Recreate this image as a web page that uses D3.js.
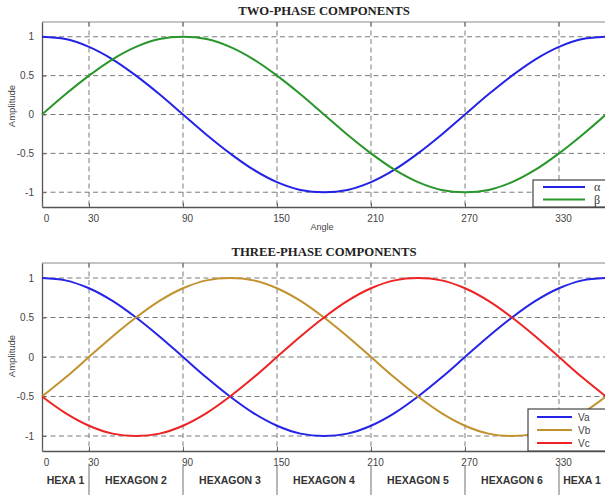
<!DOCTYPE html>
<html>
<head>
<meta charset="utf-8">
<script src="https://cdn.jsdelivr.net/npm/d3@7"></script>
<style>
  html, body { margin: 0; padding: 0; background: #fff; }
  svg { display: block; }
</style>
</head>
<body>
<script>
// Angle samples (degrees) and component amplitudes
const angles = [0, 15, 30, 45, 60, 75, 90, 105, 120, 135, 150, 165, 180, 195, 210, 225, 240, 255, 270, 285, 300, 315, 330, 345, 360];
const alpha = [1, 0.97, 0.87, 0.71, 0.5, 0.26, 0, -0.26, -0.5, -0.71, -0.87, -0.97, -1, -0.97, -0.87, -0.71, -0.5, -0.26, 0, 0.26, 0.5, 0.71, 0.87, 0.97, 1];
const beta = [0, 0.26, 0.5, 0.71, 0.87, 0.97, 1, 0.97, 0.87, 0.71, 0.5, 0.26, 0, -0.26, -0.5, -0.71, -0.87, -0.97, -1, -0.97, -0.87, -0.71, -0.5, -0.26, 0];
const va = [1, 0.97, 0.87, 0.71, 0.5, 0.26, 0, -0.26, -0.5, -0.71, -0.87, -0.97, -1, -0.97, -0.87, -0.71, -0.5, -0.26, 0, 0.26, 0.5, 0.71, 0.87, 0.97, 1];
const vb = [-0.5, -0.26, 0, 0.26, 0.5, 0.71, 0.87, 0.97, 1, 0.97, 0.87, 0.71, 0.5, 0.26, 0, -0.26, -0.5, -0.71, -0.87, -0.97, -1, -0.97, -0.87, -0.71, -0.5];
const vc = [-0.5, -0.71, -0.87, -0.97, -1, -0.97, -0.87, -0.71, -0.5, -0.26, 0, 0.26, 0.5, 0.71, 0.87, 0.97, 1, 0.97, 0.87, 0.71, 0.5, 0.26, 0, -0.26, -0.5];

const xTicks = [0, 30, 90, 150, 210, 270, 330];
const yTicks = [-1, -0.5, 0, 0.5, 1];
const yTickLabels = ["-1", "-0.5", "0", "0.5", "1"];

// Hexagon sectors along the angle axis
const sectorBounds = [0, 30, 90, 150, 210, 270, 330, 360];
const sectorNames = ["HEXA 1", "HEXAGON 2", "HEXAGON 3", "HEXAGON 4", "HEXAGON 5", "HEXAGON 6", "HEXA 1"];

const W = 605, H = 495;
const svg = d3.select("body").append("svg").attr("width", W).attr("height", H);

const x = d3.scaleLinear().domain([0, 360]).range([42, 606]);
const sans = "Liberation Sans, Arial, sans-serif";
const serif = "Liberation Serif, Times New Roman, serif";

function panel(cfg) {
  const y = d3.scaleLinear().domain([-1.19, 1.19]).range([cfg.bottom, cfg.top]);
  const g = svg.append("g");

  // title
  g.append("text")
    .attr("x", 324).attr("y", cfg.top - 7)
    .attr("text-anchor", "middle")
    .attr("font-family", serif)
    .attr("font-weight", "bold").attr("font-size", 12.7)
    .attr("fill", "#222")
    .text(cfg.title);

  // frame top edge with inward ticks
  g.append("line").attr("x1", x(0)).attr("x2", W).attr("y1", cfg.top).attr("y2", cfg.top)
    .attr("stroke", "#8a8a8a").attr("stroke-width", 1.2);
  g.append("g").selectAll("line").data(xTicks.filter(d => d > 0)).join("line")
    .attr("x1", d => x(d)).attr("x2", d => x(d))
    .attr("y1", cfg.top).attr("y2", cfg.top + 4)
    .attr("stroke", "#666").attr("stroke-width", 1);

  // dashed grid
  g.append("g").selectAll("line").data(yTicks).join("line")
    .attr("x1", x(0)).attr("x2", W)
    .attr("y1", d => y(d)).attr("y2", d => y(d))
    .attr("stroke", "#7a7a7a").attr("stroke-width", 1).attr("stroke-dasharray", "5,3.5");
  g.append("g").selectAll("line").data(xTicks.filter(d => d > 0)).join("line")
    .attr("x1", d => x(d)).attr("x2", d => x(d))
    .attr("y1", cfg.top).attr("y2", cfg.bottom)
    .attr("stroke", "#7a7a7a").attr("stroke-width", 1).attr("stroke-dasharray", "5,3.5");

  // axes (ticks point inward)
  const yAxis = d3.axisLeft(y).tickValues(yTicks).tickSizeInner(-4).tickSizeOuter(0).tickPadding(8)
    .tickFormat((d, i) => yTickLabels[i]);
  const ya = g.append("g").attr("transform", `translate(${x(0)},0)`).call(yAxis);
  ya.select(".domain").attr("stroke", "#555").attr("stroke-width", 1.3);
  ya.selectAll(".tick line").attr("stroke", "#666");
  ya.selectAll("text").attr("font-family", sans)
    .attr("font-size", 10).attr("fill", "#444");

  const xAxis = d3.axisBottom(x).tickValues(xTicks).tickSizeInner(-4).tickSizeOuter(0).tickPadding(8);
  const xa = g.append("g").attr("transform", `translate(0,${cfg.bottom})`).call(xAxis);
  xa.select(".domain").attr("stroke", "#555").attr("stroke-width", 1.3);
  xa.selectAll(".tick line").attr("stroke", "#666");
  xa.selectAll("text").attr("font-family", sans)
    .attr("font-size", 10).attr("fill", "#444").attr("dx", 4);

  // y label
  g.append("text")
    .attr("transform", `translate(15,${cfg.labelY}) rotate(-90)`)
    .attr("text-anchor", "middle")
    .attr("font-family", sans)
    .attr("font-size", 9.5).attr("fill", "#444")
    .text("Amplitude");

  // curves
  const line = d3.line().x((d, i) => x(angles[i])).y(d => y(d)).curve(d3.curveCatmullRom);
  g.append("g").selectAll("path").data(cfg.series).join("path")
    .attr("d", s => line(s.values))
    .attr("fill", "none").attr("stroke", s => s.color).attr("stroke-width", 2);

  return { g, y };
}

// ---- Two-phase panel ----
const p1 = panel({
  title: "TWO-PHASE COMPONENTS", top: 22, bottom: 207, labelY: 106,
  series: [{ name: "α", values: alpha, color: "#2323e6" }, { name: "β", values: beta, color: "#28962a" }]
});
p1.g.append("text").attr("x", 322).attr("y", 230).attr("text-anchor", "middle")
  .attr("font-family", sans).attr("font-size", 9).attr("fill", "#444")
  .text("Angle");

// legend (two-phase)
{
  const lg = p1.g.append("g");
  lg.append("rect").attr("x", 533).attr("y", 180).attr("width", 80).attr("height", 27)
    .attr("fill", "#fff").attr("stroke", "#444").attr("stroke-width", 1.2);
  const items = [{ name: "α", color: "#2323e6" }, { name: "β", color: "#28962a" }];
  items.forEach((it, i) => {
    const yy = 187 + i * 12.5;
    lg.append("line").attr("x1", 543).attr("x2", 585).attr("y1", yy).attr("y2", yy)
      .attr("stroke", it.color).attr("stroke-width", 2);
    lg.append("text").attr("x", 594).attr("y", yy + 4)
      .attr("font-family", serif).attr("font-size", 12).attr("fill", "#333")
      .text(it.name);
  });
}

// ---- Three-phase panel ----
const p2 = panel({
  title: "THREE-PHASE COMPONENTS", top: 263, bottom: 451, labelY: 356,
  series: [
    { name: "Va", values: va, color: "#2424e6" },
    { name: "Vb", values: vb, color: "#c1922e" },
    { name: "Vc", values: vc, color: "#ee2222" }
  ]
});

// legend (three-phase)
{
  const lg = p2.g.append("g");
  lg.append("rect").attr("x", 528).attr("y", 409).attr("width", 85).attr("height", 42)
    .attr("fill", "#fff").attr("stroke", "#444").attr("stroke-width", 1.2);
  const items = [{ name: "Va", color: "#2424e6" }, { name: "Vb", color: "#c1922e" }, { name: "Vc", color: "#ee2222" }];
  items.forEach((it, i) => {
    const yy = 417 + i * 13;
    lg.append("line").attr("x1", 537).attr("x2", 572).attr("y1", yy).attr("y2", yy)
      .attr("stroke", it.color).attr("stroke-width", 2);
    lg.append("text").attr("x", 578).attr("y", yy + 4)
      .attr("font-family", sans).attr("font-size", 10).attr("fill", "#444")
      .text(it.name);
  });
}

// hexagon sector row
{
  const hg = svg.append("g");
  hg.selectAll("line").data(sectorBounds.slice(1, -1)).join("line")
    .attr("x1", d => x(d)).attr("x2", d => x(d)).attr("y1", 465).attr("y2", 495)
    .attr("stroke", "#888").attr("stroke-width", 1.2);
  hg.selectAll("text").data(sectorNames).join("text")
    .attr("x", (d, i) => (x(sectorBounds[i]) + Math.min(x(sectorBounds[i + 1]), W)) / 2)
    .attr("y", 484).attr("text-anchor", "middle")
    .attr("font-family", sans)
    .attr("font-weight", "bold").attr("font-size", 10.5).attr("fill", "#333")
    .text(d => d);
}
</script>
</body>
</html>
